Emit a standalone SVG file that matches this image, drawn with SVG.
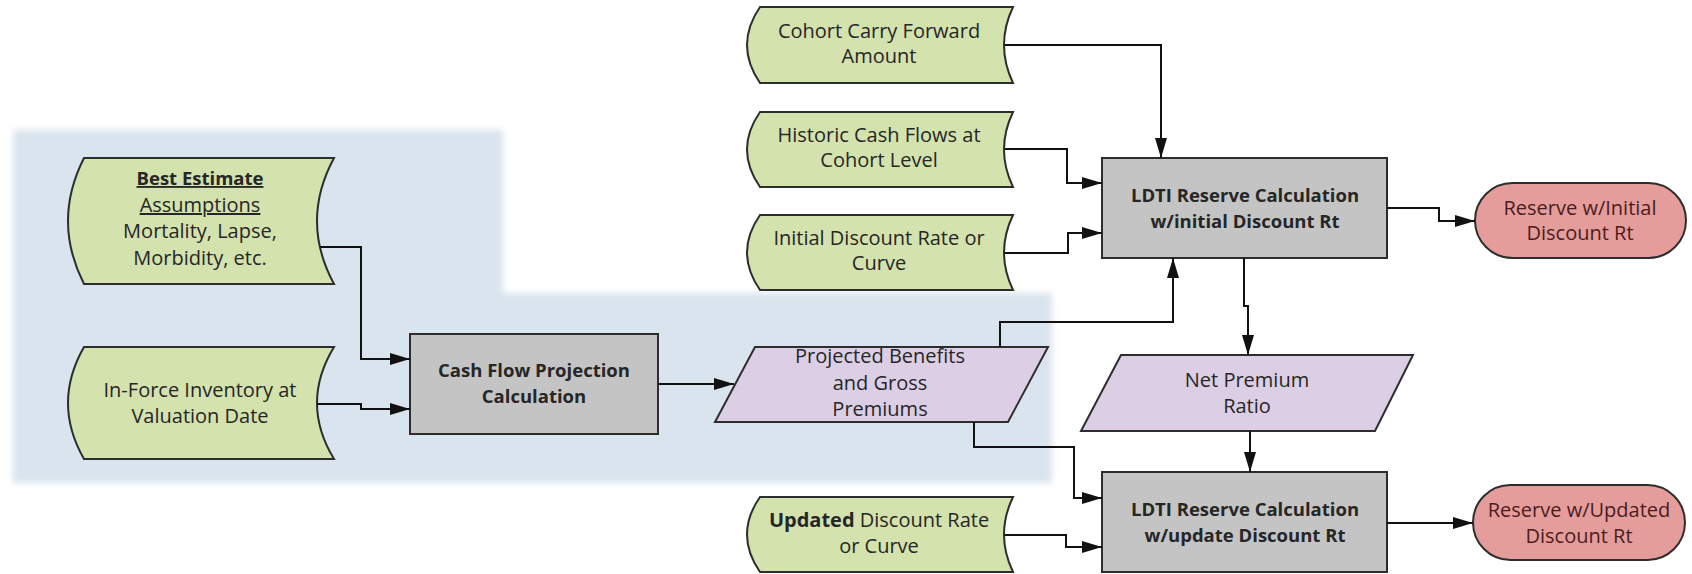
<svg xmlns="http://www.w3.org/2000/svg" width="1692" height="574" viewBox="0 0 1692 574">
  <defs>
    <filter id="soft" x="-5%" y="-5%" width="110%" height="110%">
      <feGaussianBlur stdDeviation="3"/>
    </filter>
    <marker id="arrow" markerUnits="userSpaceOnUse" markerWidth="20" markerHeight="12" refX="20" refY="6" orient="auto">
      <path d="M0,0 L20,6 L0,12 z" fill="#111"/>
    </marker>
  </defs>
  <style>
    text { font-family: "Open Sans", "Noto Sans", sans-serif; font-size: 20px; fill: #262626; text-anchor: middle; }
    .b { font-weight: bold; font-size: 18.5px; }
    .data { fill: #d4e2ae; stroke: #2d2d2d; stroke-width: 2; }
    .proc { fill: #c4c4c4; stroke: #2d2d2d; stroke-width: 2; }
    .io { fill: #dccfe5; stroke: #2d2d2d; stroke-width: 2; }
    .term { fill: #e59d9b; stroke: #2d2d2d; stroke-width: 2; }
    .term-t { fill: #4a1c1c; }
    .conn path { fill: none; stroke: #111; stroke-width: 2; marker-end: url(#arrow); }
  </style>

  <!-- shaded region behind the projection inputs -->
  <path d="M13,130 H503 V293 H1052 V483 H13 Z" fill="#dae4ee" filter="url(#soft)"/>

  <!-- stored-data inputs -->
  <g id="best-estimate">
    <path class="data" d="M84,158 H334 Q300,221 334,284 H84 Q52,221 84,158 Z"/>
    <text x="200" y="185" class="b" text-decoration="underline">Best Estimate</text>
    <text x="200" y="212" text-decoration="underline">Assumptions</text>
    <text x="200" y="238">Mortality, Lapse,</text>
    <text x="200" y="265">Morbidity, etc.</text>
  </g>
  <g id="in-force">
    <path class="data" d="M84,347 H334 Q300,403 334,459 H84 Q52,403 84,347 Z"/>
    <text x="200" y="397">In-Force Inventory at</text>
    <text x="200" y="423">Valuation Date</text>
  </g>
  <g id="cohort-carry">
    <path class="data" d="M760,7 H1013 Q995,45 1013,83 H760 Q734,45 760,7 Z"/>
    <text x="879" y="38">Cohort Carry Forward</text>
    <text x="879" y="63">Amount</text>
  </g>
  <g id="historic-cf">
    <path class="data" d="M760,112 H1013 Q995,149.5 1013,187 H760 Q734,149.5 760,112 Z"/>
    <text x="879" y="142">Historic Cash Flows at</text>
    <text x="879" y="167">Cohort Level</text>
  </g>
  <g id="initial-rate">
    <path class="data" d="M760,215 H1013 Q995,252.5 1013,290 H760 Q734,252.5 760,215 Z"/>
    <text x="879" y="245">Initial Discount Rate or</text>
    <text x="879" y="270">Curve</text>
  </g>
  <g id="updated-rate">
    <path class="data" d="M760,497 H1013 Q995,534.5 1013,572 H760 Q734,534.5 760,497 Z"/>
    <text x="879" y="527"><tspan font-weight="bold">Updated</tspan> Discount Rate</text>
    <text x="879" y="553">or Curve</text>
  </g>

  <!-- processes -->
  <g id="cash-flow-projection">
    <rect class="proc" x="410" y="334" width="248" height="100"/>
    <text x="534" y="377" class="b">Cash Flow Projection</text>
    <text x="534" y="403" class="b">Calculation</text>
  </g>
  <g id="ldti-initial">
    <rect class="proc" x="1102" y="158" width="285" height="100"/>
    <text x="1245" y="202" class="b">LDTI Reserve Calculation</text>
    <text x="1245" y="228" class="b">w/initial Discount Rt</text>
  </g>
  <g id="ldti-updated">
    <rect class="proc" x="1102" y="472" width="285" height="100"/>
    <text x="1245" y="516" class="b">LDTI Reserve Calculation</text>
    <text x="1245" y="542" class="b">w/update Discount Rt</text>
  </g>

  <!-- intermediate data -->
  <g id="projected-benefits">
    <path class="io" d="M755,347 H1048 L1008,422 H715 Z"/>
    <text x="880" y="363">Projected Benefits</text>
    <text x="880" y="390">and Gross</text>
    <text x="880" y="416">Premiums</text>
  </g>
  <g id="net-premium-ratio">
    <path class="io" d="M1121,355 H1413 L1375,431 H1081 Z"/>
    <text x="1247" y="387">Net Premium</text>
    <text x="1247" y="413">Ratio</text>
  </g>

  <!-- results -->
  <g id="reserve-initial">
    <rect class="term" x="1475" y="183" width="211" height="75" rx="37.5" ry="37.5"/>
    <text x="1580" y="215" class="term-t">Reserve w/Initial</text>
    <text x="1580" y="240" class="term-t">Discount Rt</text>
  </g>
  <g id="reserve-updated">
    <rect class="term" x="1473" y="485" width="212" height="75" rx="37.5" ry="37.5"/>
    <text x="1579" y="517" class="term-t">Reserve w/Updated</text>
    <text x="1579" y="543" class="term-t">Discount Rt</text>
  </g>

  <!-- connectors -->
  <g id="connectors" class="conn">
    <path d="M320,247 H361 V359 H410"/>
    <path d="M317,404 H361 V409 H410"/>
    <path d="M658,384 H734"/>
    <path d="M1005,45 H1161 V158"/>
    <path d="M1005,149 H1067 V183 H1102"/>
    <path d="M1005,253 H1068 V233 H1102"/>
    <path d="M1000,347 V322 H1173 V258"/>
    <path d="M1387,208 H1439 V221 H1475"/>
    <path d="M1244,258 V306 H1248 V355"/>
    <path d="M1250,431 V472"/>
    <path d="M974,422 V447 H1074 V498 H1102"/>
    <path d="M1005,535 H1066 V547 H1102"/>
    <path d="M1387,523 H1473"/>
  </g>
</svg>
